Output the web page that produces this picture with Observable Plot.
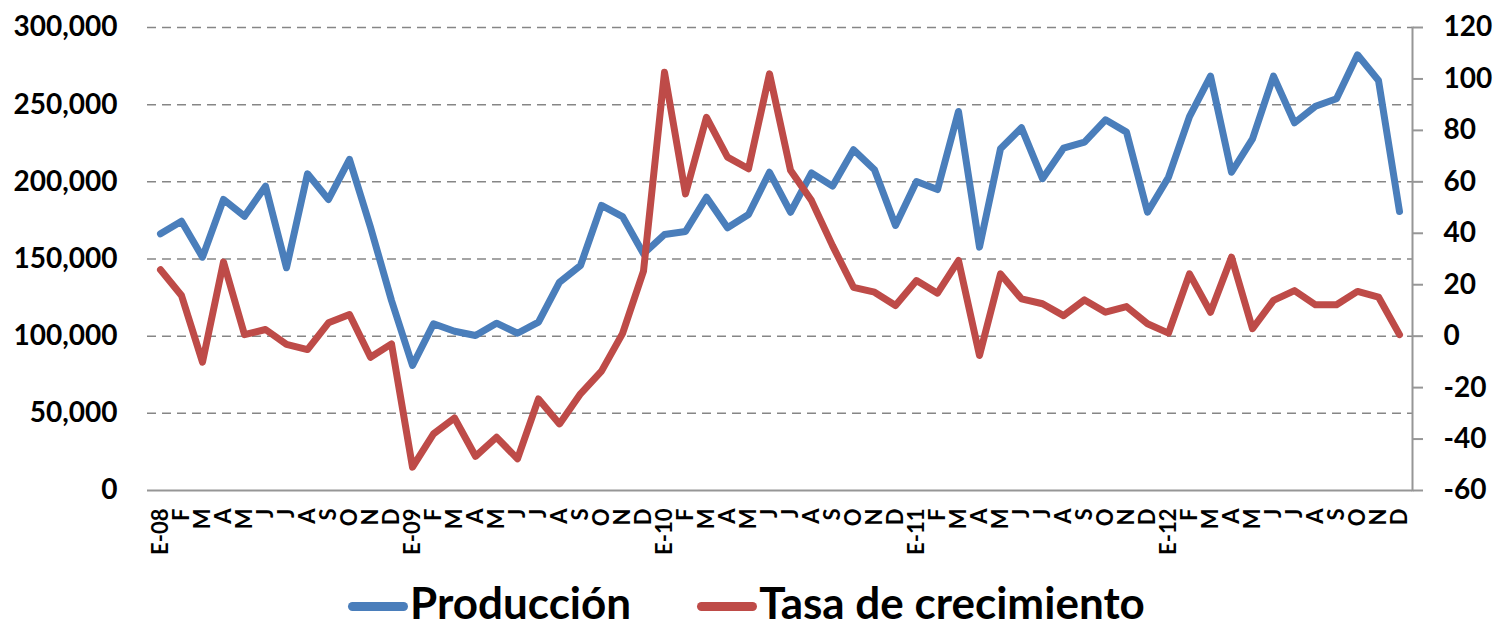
<!DOCTYPE html>
<html>
<head>
<meta charset="utf-8">
<script src="https://cdn.jsdelivr.net/npm/d3@7"></script>
<script src="https://cdn.jsdelivr.net/npm/@observablehq/plot@0.6"></script>
<style>
  html, body { margin: 0; padding: 0; background: #fff; }
  #wrap { position: relative; width: 1493px; height: 630px; font-family: Lato, "Open Sans", sans-serif; }
  #chart { position: absolute; left: 0; top: 0; }
  #legend { position: absolute; left: 0; top: 576px; width: 1493px; height: 53px; display: flex; justify-content: center; align-items: center; font-weight: 700; font-size: 44px; line-height: 53px; color: #000; }
  .item { display: flex; align-items: center; }
  .item + .item { margin-left: 66px; }
  .sw { display: inline-block; width: 60px; height: 9px; border-radius: 5px; margin-right: 2px; position: relative; top: 4px; }
</style>
</head>
<body>
<div id="wrap">
  <div id="chart"></div>
  <div id="legend"></div>
</div>
<script>
const months = ["E-08","F","M","A","M","J","J","A","S","O","N","D",
  "E-09","F","M","A","M","J","J","A","S","O","N","D",
  "E-10","F","M","A","M","J","J","A","S","O","N","D",
  "E-11","F","M","A","M","J","J","A","S","O","N","D",
  "E-12","F","M","A","M","J","J","A","S","O","N","D"];

const produccion = [166300,174500,151200,188600,177700,197200,144300,205200,188600,214500,170600,123100,
  81000,108000,103200,100400,108400,101900,109100,135000,145800,184700,177500,153400,
  165900,167800,190000,170200,178800,206200,180300,205800,197200,220800,207800,171700,
  200200,195000,245600,157700,221400,235000,202000,221800,225700,240200,232200,180300,
  203000,242300,268500,206200,227900,268500,238200,249000,253800,282300,265700,180800];

const tasa = [25.8,15.8,-10.1,28.8,0.6,2.6,-3.2,-5.2,5.2,8.4,-8.2,-3.0,
  -50.9,-38.0,-31.8,-46.7,-39.3,-47.7,-24.4,-34.1,-22.4,-13.6,1.0,25.3,
  102.6,55.3,85.1,69.6,65.1,102.0,64.5,52.7,35.2,19.0,17.1,11.9,
  21.6,16.7,29.4,-7.5,24.2,14.5,12.6,8.0,14.1,9.3,11.5,4.8,
  1.2,24.2,9.3,30.7,2.9,13.9,17.7,12.2,12.2,17.4,15.2,0.6];

const leftTicks = [0,50000,100000,150000,200000,250000,300000];
const rightTicks = [-60,-40,-20,0,20,40,60,80,100,120];

const series = ["Producción","Tasa de crecimiento"];
const colors = ["#4A7EBB","#BE4B48"];

// map right-axis values onto the left scale
const rMin = -60, rMax = 120, lMax = 300000;
const toLeft = v => (v - rMin) / (rMax - rMin) * lMax;
const toRight = v => Math.round(v / lMax * (rMax - rMin) + rMin);

const idx = months.map((_, i) => i);
const prodData = idx.map(i => ({i, v: produccion[i]}));
const tasaData = idx.map(i => ({i, v: toLeft(tasa[i])}));

const font = "Lato, 'Open Sans', sans-serif";

const chart = Plot.plot({
  width: 1493,
  height: 575,
  marginLeft: 147,
  marginRight: 81,
  marginTop: 27,
  marginBottom: 85,
  style: {fontFamily: font, fontWeight: 700, color: "#000", background: "#fff", overflow: "visible"},
  x: {type: "point", domain: idx, padding: 0.5},
  y: {domain: [0, lMax]},
  marks: [
    Plot.ruleY(leftTicks.filter(d => d > 0), {stroke: "#868686", strokeWidth: 1.5, strokeDasharray: "9,6"}),
    Plot.ruleY([0], {stroke: "#969696", strokeWidth: 2}),
    Plot.frame({anchor: "right", stroke: "#969696", strokeWidth: 2}),
    Plot.axisY(leftTicks, {anchor: "left", tickSize: 0, tickPadding: 30, fontSize: 28, fontWeight: 700,
      tickFormat: d => d3.format(",")(d), label: null}),
    Plot.axisY(rightTicks.map(toLeft), {anchor: "right", tickSize: 10, tickPadding: 21, fontSize: 28, fontWeight: 700,
      stroke: "#969696", strokeWidth: 2, tickFormat: d => String(toRight(d)), label: null}),
    Plot.axisX(idx, {anchor: "bottom", tickSize: 0, tickPadding: 18, tickRotate: -90, fontSize: 22, fontWeight: 700,
      tickFormat: i => months[i], label: null}),
    Plot.line(prodData, {x: "i", y: "v", stroke: colors[0], strokeWidth: 7, strokeLinejoin: "round", strokeLinecap: "round"}),
    Plot.line(tasaData, {x: "i", y: "v", stroke: colors[1], strokeWidth: 7, strokeLinejoin: "round", strokeLinecap: "round"})
  ]
});
document.getElementById("chart").appendChild(chart);

const legend = document.getElementById("legend");
series.forEach((s, k) => {
  const it = document.createElement("div");
  it.className = "item";
  const sw = document.createElement("span");
  sw.className = "sw";
  sw.style.background = colors[k];
  const tx = document.createElement("span");
  tx.textContent = s;
  it.appendChild(sw);
  it.appendChild(tx);
  legend.appendChild(it);
});
</script>
</body>
</html>
